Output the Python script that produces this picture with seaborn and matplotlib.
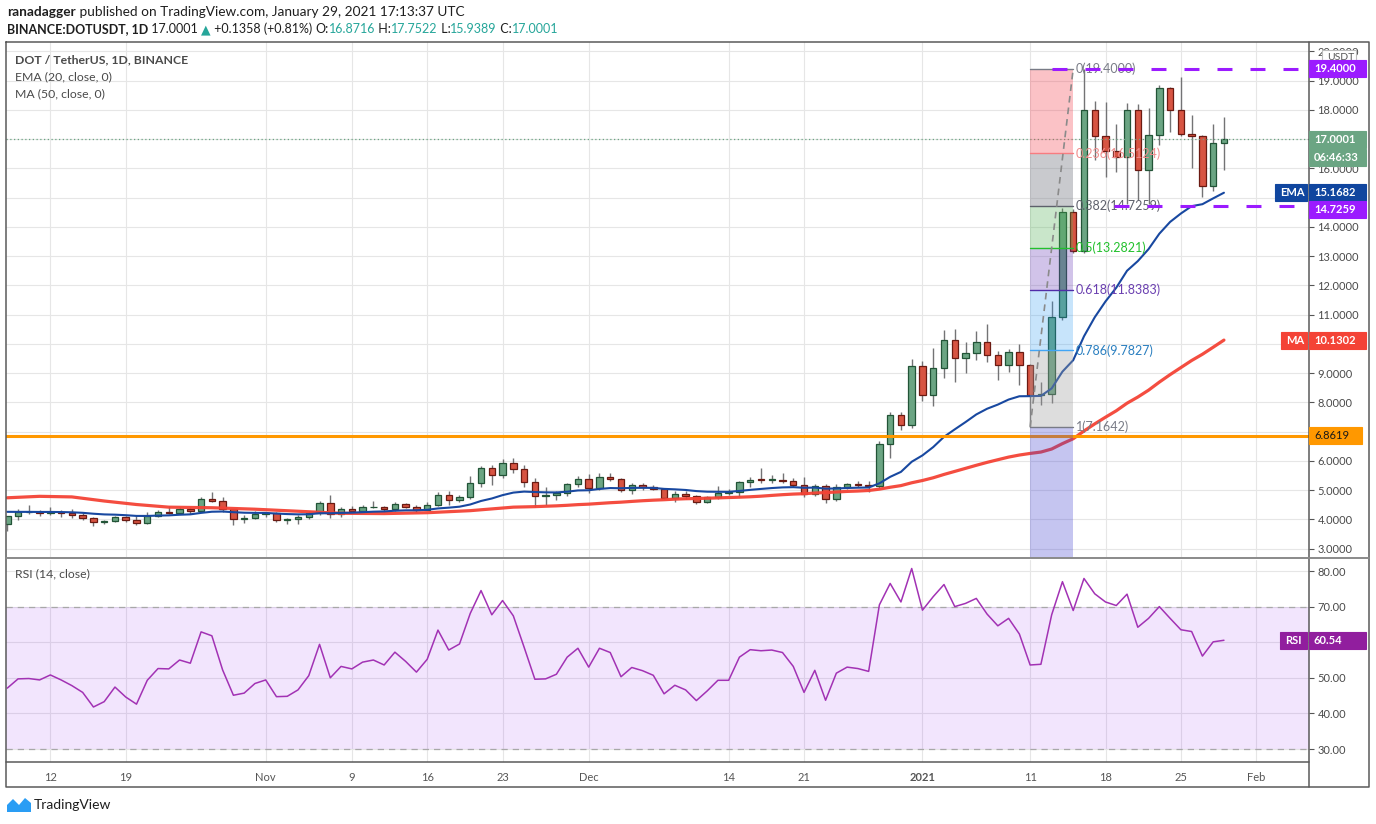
import numpy as np
import pandas as pd
import matplotlib
matplotlib.use("Agg")
import matplotlib.pyplot as plt
import matplotlib.dates as mdates
from matplotlib.patches import Rectangle, Polygon
from matplotlib.lines import Line2D
import seaborn as sns

# ---------------- data ----------------
dates = pd.date_range("2020-10-08", "2021-01-29", freq="D")

opens = [3.83, 4.11, 4.24, 4.26, 4.23, 4.26, 4.22, 4.16, 4.06, 3.90,
         3.95, 4.08, 3.97, 3.89, 4.11, 4.24, 4.22, 4.36, 4.30, 4.70,
         4.64, 4.34, 4.03, 4.06, 4.17, 4.21, 3.99, 4.02, 4.08, 4.21,
         4.55, 4.20, 4.34, 4.30, 4.41, 4.43, 4.36, 4.52, 4.44, 4.33,
         4.48, 4.83, 4.65, 4.75, 5.23, 5.77, 5.52, 5.92, 5.74, 5.28,
         4.80, 4.82, 4.89, 5.20, 5.39, 5.06, 5.46, 5.37, 5.00, 5.19,
         5.12, 5.04, 4.73, 4.88, 4.80, 4.61, 4.75, 4.91, 4.93, 5.27,
         5.36, 5.34, 5.36, 5.31, 5.18, 4.88, 5.15, 4.71, 5.12, 5.22,
         5.19, 5.15, 6.59, 7.56, 7.24, 9.26, 8.26, 9.18, 10.14, 9.51,
         9.69, 10.07, 9.63, 9.28, 9.73, 9.28, 8.25, 8.30, 10.92, 14.50,
         13.16, 18.00, 17.11, 16.59, 16.39, 18.00, 15.96, 17.15, 18.76, 17.99,
         17.19, 17.10, 15.41, 16.87]
highs = [4.13, 4.36, 4.49, 4.32, 4.43, 4.32, 4.35, 4.23, 4.10, 3.97,
         4.11, 4.13, 4.15, 4.24, 4.32, 4.46, 4.41, 4.41, 4.75, 4.93,
         4.76, 4.36, 4.15, 4.29, 4.26, 4.26, 4.04, 4.15, 4.29, 4.63,
         4.84, 4.41, 4.46, 4.48, 4.63, 4.46, 4.60, 4.57, 4.50, 4.58,
         4.94, 4.97, 4.85, 5.49, 5.83, 5.85, 6.08, 6.09, 5.85, 5.41,
         5.11, 4.97, 5.23, 5.49, 5.54, 5.58, 5.58, 5.43, 5.23, 5.23,
         5.17, 5.09, 4.96, 4.96, 4.85, 4.81, 5.14, 5.03, 5.31, 5.46,
         5.75, 5.51, 5.58, 5.43, 5.46, 5.22, 5.20, 5.20, 5.26, 5.31,
         5.31, 6.69, 7.68, 7.68, 9.50, 9.43, 9.86, 10.49, 10.52, 10.06,
         10.45, 10.69, 9.75, 9.81, 9.98, 9.30, 8.70, 11.45, 14.63, 14.60,
         19.40, 18.30, 18.28, 17.53, 18.25, 18.19, 18.05, 18.85, 18.79, 19.14,
         17.82, 17.13, 17.53, 17.75]
lows = [3.61, 3.98, 4.19, 4.12, 4.15, 4.09, 4.06, 3.99, 3.77, 3.85,
        3.90, 3.92, 3.82, 3.84, 4.07, 4.20, 4.18, 4.20, 4.26, 4.60,
        4.24, 3.82, 3.89, 4.01, 4.09, 3.91, 3.84, 3.84, 4.00, 4.14,
        4.05, 4.09, 4.25, 4.28, 4.40, 4.25, 4.29, 4.39, 4.26, 4.31,
        4.45, 4.48, 4.59, 4.69, 5.11, 5.18, 5.41, 5.58, 5.11, 4.42,
        4.48, 4.66, 4.80, 5.11, 4.91, 5.00, 5.31, 4.95, 4.87, 5.00,
        5.00, 4.71, 4.59, 4.69, 4.54, 4.57, 4.69, 4.83, 4.80, 5.11,
        5.26, 5.26, 5.26, 5.11, 4.77, 4.80, 4.55, 4.63, 5.04, 5.12,
        4.94, 5.08, 6.11, 7.06, 7.14, 8.05, 7.88, 8.82, 8.69, 9.01,
        9.44, 9.38, 8.76, 9.03, 8.59, 7.16, 7.90, 7.97, 10.83, 13.10,
        13.10, 16.27, 15.70, 15.89, 14.78, 14.93, 14.78, 16.79, 17.25, 17.11,
        16.01, 15.03, 15.24, 15.94]
closes = [4.11, 4.24, 4.26, 4.23, 4.26, 4.22, 4.16, 4.06, 3.90, 3.95,
          4.08, 3.97, 3.89, 4.11, 4.24, 4.22, 4.36, 4.30, 4.70, 4.64,
          4.34, 4.03, 4.06, 4.17, 4.21, 3.99, 4.02, 4.08, 4.21, 4.55,
          4.20, 4.34, 4.30, 4.41, 4.43, 4.36, 4.52, 4.44, 4.33, 4.48,
          4.83, 4.65, 4.75, 5.23, 5.77, 5.52, 5.92, 5.74, 5.28, 4.80,
          4.82, 4.89, 5.20, 5.39, 5.06, 5.46, 5.37, 5.00, 5.19, 5.12,
          5.04, 4.73, 4.88, 4.80, 4.61, 4.75, 4.91, 4.93, 5.27, 5.36,
          5.34, 5.36, 5.31, 5.18, 4.88, 5.15, 4.71, 5.12, 5.22, 5.19,
          5.15, 6.59, 7.56, 7.24, 9.26, 8.26, 9.18, 10.14, 9.51, 9.69,
          10.07, 9.63, 9.28, 9.73, 9.28, 8.25, 8.30, 10.92, 14.50, 13.16,
          18.00, 17.11, 16.59, 16.39, 18.00, 15.96, 17.15, 18.76, 17.99, 17.19,
          17.10, 15.41, 16.87, 17.00]
rsi_vals = [47.1, 49.7, 49.8, 49.4, 50.8, 49.4, 47.8, 45.9, 41.8, 43.3,
            47.4, 44.6, 42.6, 49.3, 52.6, 52.5, 55.0, 54.1, 62.9, 61.8,
            52.2, 45.1, 45.7, 48.4, 49.4, 44.7, 44.8, 46.6, 50.6, 59.4,
            50.0, 53.2, 52.5, 54.4, 55.0, 53.6, 57.2, 54.6, 51.6, 55.2,
            63.4, 57.8, 59.5, 68.1, 74.5, 67.7, 71.7, 67.4, 58.6, 49.6,
            49.7, 51.0, 55.8, 58.3, 53.0, 58.3, 57.1, 50.3, 52.9, 52.0,
            50.7, 45.5, 47.9, 46.6, 43.6, 46.3, 49.3, 49.3, 55.8, 57.9,
            57.6, 57.8, 57.1, 53.2, 45.9, 52.1, 43.7, 51.3, 53.0, 52.6,
            51.8, 70.5, 76.5, 71.3, 80.7, 69.0, 72.8, 76.2, 70.0, 70.9,
            72.3, 67.9, 64.6, 66.7, 62.3, 53.6, 53.8, 67.7, 77.0, 68.9,
            77.9, 73.6, 71.3, 70.3, 73.5, 64.2, 66.7, 70.0, 66.7, 63.5,
            63.0, 56.1, 60.1, 60.54]

# EMA value on the first visible day, MA(50) before enough closes are on screen
ema_seed = 4.26
ma_early_days = [0, 3, 6, 9, 12, 15, 19, 23, 27, 31, 35, 39, 43, 47]
ma_early_vals = [4.74, 4.79, 4.77, 4.63, 4.51, 4.42, 4.40, 4.35, 4.28, 4.21,
                 4.20, 4.23, 4.30, 4.42]

# fibonacci retracement
fib_levels = [0, 0.236, 0.382, 0.5, 0.618, 0.786, 1]
fib_high = 19.4
fib_low = 7.1642
support_orange = 6.8619

tick_dates = ["2020-10-12", "2020-10-19", "2020-11-01", "2020-11-09", "2020-11-16",
              "2020-11-23", "2020-12-01", "2020-12-14", "2020-12-21", "2021-01-01",
              "2021-01-11", "2021-01-18", "2021-01-25", "2021-02-01"]
tick_labels = ["12", "19", "Nov", "9", "16", "23", "Dec", "14", "21", "2021",
               "11", "18", "25", "Feb"]

# price scale labels hidden behind the value tags
hidden_price = [7, 10, 15, 17]
hidden_rsi = [60]

# ---------------- style ----------------
sns.set_theme(style="whitegrid")
plt.rcParams["font.family"] = ["Lato", "DejaVu Sans"]

W, H = 1376, 824
fig = plt.figure(figsize=(W / 100, H / 100), dpi=100)
fig.patch.set_facecolor("white")

ax = fig.add_axes([6 / W, 1 - 557 / H, 1303 / W, 515 / H])
ax_r = fig.add_axes([6 / W, 1 - 762 / H, 1303 / W, 202 / H], sharex=ax)

x = mdates.date2num(dates)
o = np.array(opens); h = np.array(highs); l = np.array(lows); c = np.array(closes)
x0 = x[0]
ax.set_xlim(x0 - 0.12, x0 + 120.9)
ax.set_ylim(2.716, 20.32)
ax_r.set_ylim(26.35, 83.09)

GRID = "#e6e6e6"
for a in (ax, ax_r):
    a.set_facecolor("white")
    for s in a.spines.values():
        s.set_visible(False)
    a.grid(True, color=GRID, lw=0.8)
    a.yaxis.tick_right()
    a.tick_params(axis="y", which="both", right=True, length=3.5, width=0.8,
                  color="#555555", pad=2.5, labelsize=8, labelcolor="#4a4a4a")
    a.set_xlabel("")
    a.set_ylabel("")

pticks = np.arange(3, 21, 1)
ax.set_yticks(pticks)
ax.set_yticklabels(["" if v in hidden_price else f"{v:.4f}" for v in pticks])
rticks = np.arange(30, 81, 10)
ax_r.set_yticks(rticks)
ax_r.set_yticklabels(["" if v in hidden_rsi else f"{v:.2f}" for v in rticks])

tx = mdates.date2num(pd.to_datetime(tick_dates))
ax_r.set_xticks(tx)
ax_r.set_xticklabels(tick_labels)
ax_r.tick_params(axis="x", length=0, pad=7, labelsize=8, labelcolor="#555555")
for lab in ax_r.get_xticklabels():
    if lab.get_text() == "2021":
        lab.set_fontweight("bold")
ax.tick_params(axis="x", labelbottom=False, length=0)

# ---------------- candles ----------------
up = c >= o
body = np.maximum(np.abs(c - o), 0.03)
bottom = np.minimum(o, c)
ax.vlines(x, l, h, color="#737375", lw=1.0, zorder=3)
ax.bar(x[up], body[up], bottom=bottom[up], width=0.6, color="#6ba583",
       edgecolor="#225437", lw=0.9, zorder=4)
ax.bar(x[~up], body[~up], bottom=bottom[~up], width=0.6, color="#d75442",
       edgecolor="#6b1a12", lw=0.9, zorder=4)

# ---------------- moving averages ----------------
ema = [ema_seed]
for v in closes[1:]:
    ema.append(ema[-1] + 2 / 21 * (v - ema[-1]))
ma_late = pd.Series(closes).rolling(50).mean()
ma_x = list(x0 + np.array(ma_early_days)) + list(x[49:])
ma_y = list(ma_early_vals) + list(ma_late[49:])

sns.lineplot(x=ma_x, y=ma_y, ax=ax, color="#f44336", lw=2.3, alpha=0.95,
             estimator=None, sort=False, legend=False, zorder=5)
sns.lineplot(x=x, y=ema, ax=ax, color="#1848a0", lw=1.5,
             estimator=None, sort=False, legend=False, zorder=5)

ax.axhline(support_orange, color="#ff9800", lw=2.2, zorder=5)
ax.axhline(closes[-1], color="#6ba583", lw=0.9, ls=(0, (1, 2)), zorder=5)

# ---------------- fibonacci box ----------------
xa, xb = x[95], x[99]
fib_prices = [fib_high - f * (fib_high - fib_low) for f in fib_levels]
zone_cols = ["#f23645", "#787b86", "#4caf50", "#673ab7", "#2196f3", "#9e9e9e"]
zone_alpha = [0.3, 0.4, 0.3, 0.3, 0.25, 0.35]
for i in range(6):
    ax.fill_between([xa, xb], fib_prices[i + 1], fib_prices[i], color=zone_cols[i],
                    alpha=zone_alpha[i], lw=0, zorder=6)
ax.fill_between([xa, xb], 0, fib_low, color="#3f3fd0", alpha=0.3, lw=0, zorder=6)
line_cols = ["#787b86", "#f77c80", "#5d606b", "#22c02c", "#512da8", "#42a5f5", "#787b86"]
text_cols = ["#787b86", "#f08c8c", "#5d606b", "#22c02c", "#6a3fb0", "#2a7fc0", "#787b86"]
for f, p, lc, tc in zip(fib_levels, fib_prices, line_cols, text_cols):
    ax.plot([xa, xb], [p, p], color=lc, lw=1.0, zorder=7)
    lbl = f"{f:g}({p:.4f})"
    ax.text(xb + 0.25, p, lbl, color=tc, fontsize=9, va="center", ha="left", zorder=8)
ax.plot([xa, xb], [fib_low, fib_high], color="#8a8a8a", lw=1.2, ls=(0, (4, 3)), zorder=7)

# purple resistance / support
ax.plot([x[97], x0 + 121], [fib_high, fib_high], color="#9b1bff", lw=2.2,
        ls=(0, (4.9, 5.9)), zorder=9, solid_capstyle="butt")
ax.plot([x[103] - 0.2, x0 + 121], [fib_prices[2], fib_prices[2]], color="#9b1bff",
        lw=2.2, ls=(0, (4.9, 5.9)), zorder=9)

# ---------------- RSI ----------------
ax_r.axhspan(30, 70, color="#8000f0", alpha=0.1, lw=0, zorder=1)
for lv in (30, 70):
    ax_r.axhline(lv, color="#a8a8a8", lw=0.9, ls=(0, (5, 4)), zorder=2)
sns.lineplot(x=x, y=rsi_vals, ax=ax_r, color="#a232b4", lw=1.1,
             estimator=None, sort=False, legend=False, zorder=4)

# ---------------- frame lines ----------------
def fline(xs, ys, color="#5a5a5a", lw=1.1):
    fig.add_artist(Line2D([v / W for v in xs], [1 - v / H for v in ys],
                          color=color, lw=lw, transform=fig.transFigure))

fline([6, 1369, 1369, 6, 6], [42, 42, 787, 787, 42])
fline([1309, 1309], [42, 787])
fline([6, 1369], [558, 558], color="#8a8a8a", lw=1.4)
fline([6, 1309], [762, 762])

# ---------------- right-scale tags ----------------
def disp_y(a, v):
    return a.transData.transform((x0, v))[1]


def tag(yd, text, bg, fg="white", xl=1309, xr=1366, hh=17, edge=None, size=8,
        bold=True):
    fig.add_artist(Rectangle((xl / W, (yd - hh / 2) / H), (xr - xl) / W, hh / H,
                             transform=fig.transFigure, facecolor=bg,
                             edgecolor=edge or bg, lw=0.8, zorder=10))
    fig.text((xl + 5) / W, yd / H, text, color=fg, fontsize=size,
             weight="bold" if bold else "normal", va="center", ha="left", zorder=11)


tag(H - 58, "USDT", "white", fg="#555555", xl=1322, xr=1356, hh=16, edge="#bdbdbd",
    size=7.5, bold=False)
tag(disp_y(ax, fib_high), "19.4000", "#9b1bff")
yp = disp_y(ax, closes[-1])
tag(yp, "17.0001", "#6ba583")
tag(yp - 18, "06:46:33", "#6ba583")
ye = disp_y(ax, 15.1682)
tag(ye, "EMA", "#10469f", xl=1275, xr=1307)
tag(ye, "15.1682", "#10469f")
tag(ye - 17, "14.7259", "#9b1bff")
ym = disp_y(ax, 10.1302)
tag(ym, "MA", "#f44336", xl=1281, xr=1307)
tag(ym, "10.1302", "#f44336")
tag(disp_y(ax, support_orange), "6.8619", "#ff9800", fg="#1a1a1a", xr=1362,
    bold=False)
yr = disp_y(ax_r, rsi_vals[-1])
tag(yr, "RSI", "#911e9e", xl=1280, xr=1307)
tag(yr, "60.54", "#911e9e")

# ---------------- texts ----------------
renderer = fig.canvas.get_renderer()


def write(xp, yp_, parts, size=9.8):
    cur = xp
    for s, col, wt in parts:
        t = fig.text(cur / W, 1 - yp_ / H, s, color=col, fontsize=size, weight=wt,
                     va="center", ha="left")
        cur += t.get_window_extent(renderer=renderer).width


DARK = "#1e1e1e"
TEAL = "#26a69a"
write(7, 12, [("ranadagger", DARK, "bold"),
              (" published on TradingView.com, January 29, 2021 17:13:37 UTC", DARK, "normal")])
write(7, 29, [("BINANCE:DOTUSDT, 1D", DARK, "bold"), (" 17.0001 ", DARK, "normal"),
              ("\u25b2", TEAL, "normal"), (" +0.1358 (+0.81%) ", DARK, "normal"),
              ("O:", DARK, "normal"), ("16.8716", TEAL, "normal"),
              (" H:", DARK, "normal"), ("17.7522", TEAL, "normal"),
              (" L:", DARK, "normal"), ("15.9389", TEAL, "normal"),
              (" C:", DARK, "normal"), ("17.0001", TEAL, "normal")], size=9.0)

GRAYT = "#4a4a4a"
write(15, 60, [("DOT / TetherUS, 1D, BINANCE", GRAYT, "bold")], size=8.8)
write(15, 77, [("EMA (20, close, 0)", GRAYT, "normal")], size=8.8)
write(15, 94, [("MA (50, close, 0)", GRAYT, "normal")], size=8.8)
write(15, 574, [("RSI (14, close)", GRAYT, "normal")], size=8.8)

# TradingView footer
logo = [(7, 812), (7, 805), (13, 799), (19, 805), (25, 798), (31, 803), (31, 812)]
fig.add_artist(Polygon([(px / W, 1 - py / H) for px, py in logo], closed=True,
                       transform=fig.transFigure, facecolor="#2a9df4", edgecolor="none"))
write(34, 805, [("TradingView", DARK, "normal")], size=10)

fig.savefig("out.png", dpi=100, facecolor="white")
